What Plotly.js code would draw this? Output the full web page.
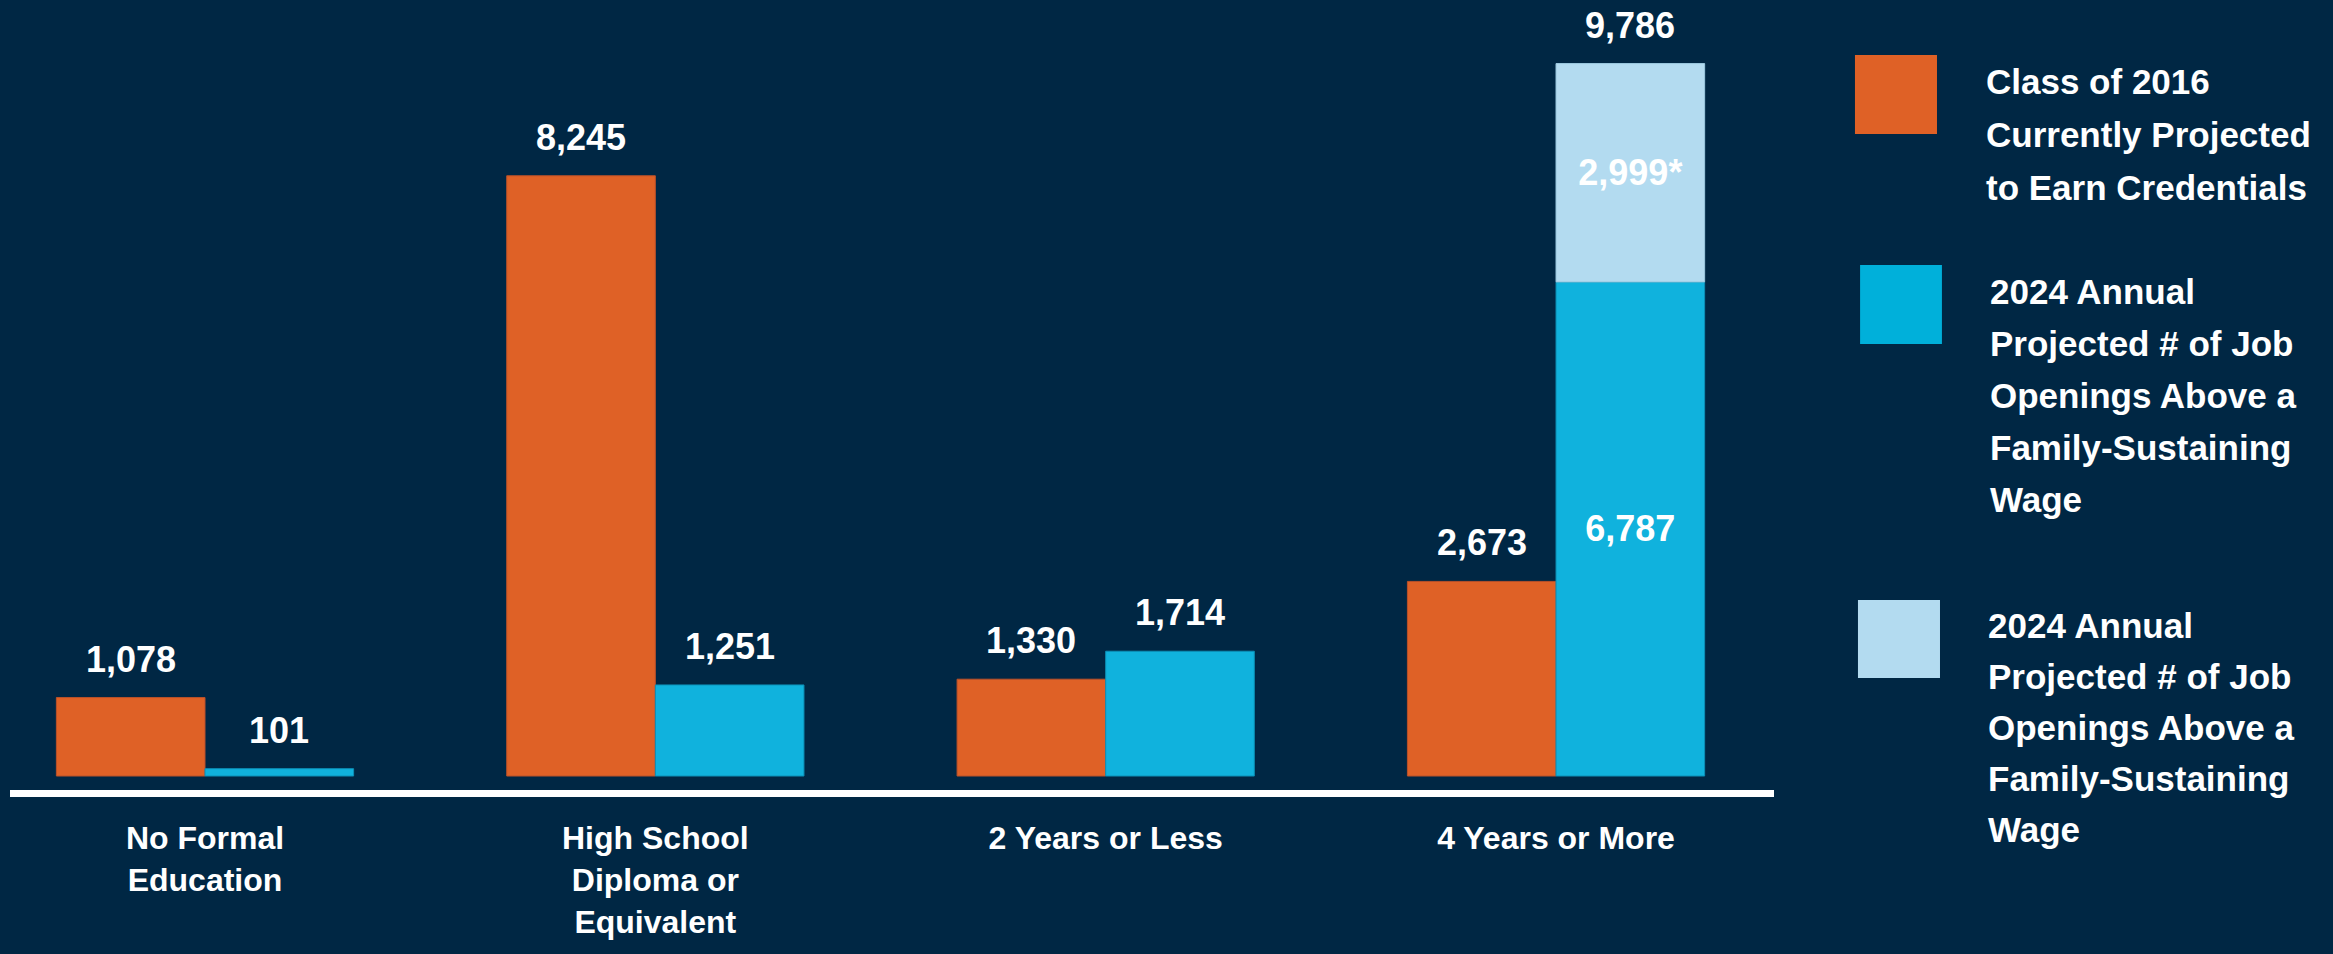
<!DOCTYPE html>
<html>
<head>
<meta charset="utf-8">
<script src="https://cdn.plot.ly/plotly-3.0.1.min.js"></script>
<style>html,body{margin:0;padding:0;background:#002744;}#chart{width:2333px;height:954px;}</style>
</head>
<body>
<div id="chart"></div>
<script>
// ---- data ----
const categories = ['No Formal<br>Education', 'High School<br>Diploma or<br>Equivalent', '2 Years or Less', '4 Years or More'];
const classOf2016 = [1078, 8245, 1330, 2673];
const jobOpenings = [101, 1251, 1714, 6787];
const jobOpeningsExtra = [null, null, null, 2999];
const extraSuffix = '*';
const seriesNames = [
  'Class of 2016<br>Currently Projected<br>to Earn Credentials',
  '2024 Annual<br>Projected # of Job<br>Openings Above a<br>Family-Sustaining<br>Wage',
  '2024 Annual<br>Projected # of Job<br>Openings Above a<br>Family-Sustaining<br>Wage'
];

// ---- style ----
const BG = '#002744';
const ORANGE = '#DF6126';
const BLUE = '#10B2DD';
const LIGHT = '#B3DBF0';
const FONT = '"Liberation Sans", Arial, sans-serif';
const BARGAP = 0.34;
const half = (1 - BARGAP) / 4; // offset of each bar centre from category centre

const fmt = v => v.toLocaleString('en-US');
const totals = jobOpenings.map((v, i) => v + (jobOpeningsExtra[i] || 0));

const valueFont = {family: FONT, size: 36, color: '#FFFFFF', weight: 'bold'};

const traces = [
  {
    type: 'bar', name: seriesNames[0], x: categories, y: classOf2016,
    offsetgroup: 'a', marker: {color: ORANGE, line: {color: '#B9512A', width: 1}},
    hoverinfo: 'none'
  },
  {
    type: 'bar', name: seriesNames[1], x: categories, y: jobOpenings,
    offsetgroup: 'b', marker: {color: BLUE, line: {color: '#0C8FB6', width: 1}},
    text: jobOpenings.map((v, i) => jobOpeningsExtra[i] ? fmt(v) : ''),
    textposition: 'inside', insidetextanchor: 'middle', textangle: 0, constraintext: 'none',
    insidetextfont: valueFont,
    hoverinfo: 'none'
  },
  {
    type: 'bar', name: seriesNames[2], x: categories, y: jobOpeningsExtra, base: jobOpenings,
    offsetgroup: 'b', marker: {color: LIGHT, line: {color: '#9CC9E0', width: 1}},
    text: jobOpeningsExtra.map(v => v ? fmt(v) + extraSuffix : ''),
    textposition: 'inside', insidetextanchor: 'middle', textangle: 0, constraintext: 'none',
    insidetextfont: valueFont,
    hoverinfo: 'none'
  }
];

const annotations = [];
classOf2016.forEach((v, i) => {
  annotations.push({xref: 'x', yref: 'y', x: i - half, y: v, text: fmt(v), showarrow: false,
    xanchor: 'center', yanchor: 'bottom', yshift: 16, font: valueFont});
});
jobOpenings.forEach((v, i) => {
  const top = jobOpeningsExtra[i] ? totals[i] : v;
  annotations.push({xref: 'x', yref: 'y', x: i + half, y: top, text: fmt(top), showarrow: false,
    xanchor: 'center', yanchor: 'bottom', yshift: 16, font: valueFont});
});

// custom legend (large swatches), each text line placed with the reference's line spacing
const legendColors = [ORANGE, '#00B0DA', LIGHT];
const legendBox = [
  {x0: 1.0459, x1: 1.0924, y0: 0.8304, y1: 0.9304, tx: 1.1190, ty: 0.9240, gap: 53},
  {x0: 1.0488, x1: 1.0952, y0: 0.5646, y1: 0.6646, tx: 1.1213, ty: 0.6582, gap: 52},
  {x0: 1.0476, x1: 1.0941, y0: 0.1418, y1: 0.2405, tx: 1.1202, ty: 0.2354, gap: 51}
];
const shapes = [];
seriesNames.forEach((name, k) => {
  const b = legendBox[k];
  shapes.push({type: 'rect', xref: 'paper', yref: 'paper', x0: b.x0, x1: b.x1, y0: b.y0, y1: b.y1,
    fillcolor: legendColors[k], line: {width: 0}});
  name.split('<br>').forEach((line, j) => {
    annotations.push({xref: 'paper', yref: 'paper', x: b.tx, y: b.ty, yshift: -j * b.gap,
      text: line, showarrow: false, xanchor: 'left', yanchor: 'top', align: 'left',
      font: {family: FONT, size: 35, color: '#FFFFFF', weight: 'bold'}});
  });
});

const layout = {
  width: 2333, height: 954,
  margin: {l: 10, r: 559, t: 0, b: 164},
  paper_bgcolor: BG, plot_bgcolor: BG,
  barmode: 'group', bargap: BARGAP, bargroupgap: 0,
  showlegend: false,
  xaxis: {
    type: 'category', range: [-0.433, 3.484], showgrid: false, zeroline: false,
    showline: true, linecolor: '#FFFFFF', linewidth: 7, ticks: '',
    tickfont: {family: FONT, size: 32, color: '#FFFFFF', weight: 'bold'},
    ticklabelstandoff: 14, fixedrange: true
  },
  yaxis: {visible: false, range: [-192, 10659], showgrid: false, zeroline: false, fixedrange: true},
  annotations: annotations,
  shapes: shapes,
  hovermode: false
};

Plotly.newPlot('chart', traces, layout, {displayModeBar: false, staticPlot: true});
</script>
</body>
</html>
